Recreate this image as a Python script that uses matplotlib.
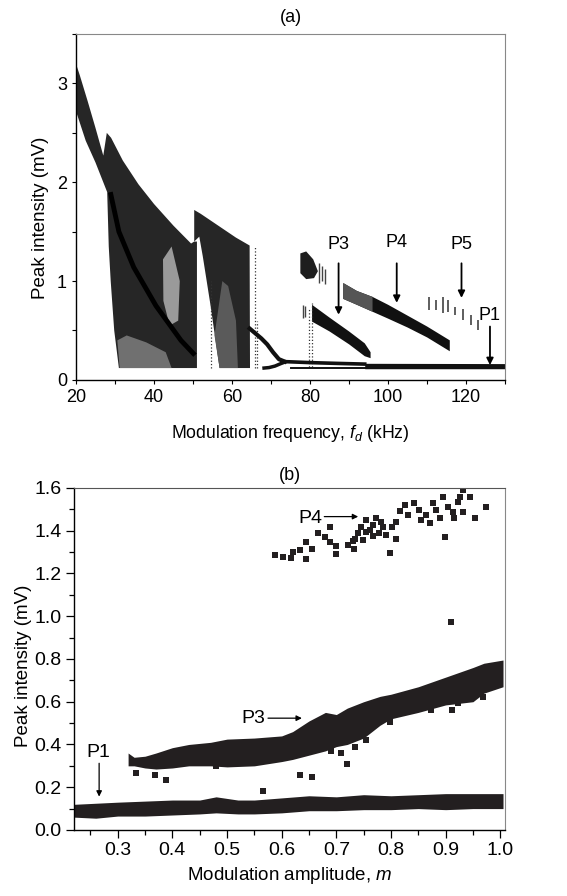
import numpy as np
import matplotlib
matplotlib.use("Agg")
import matplotlib.pyplot as plt
from matplotlib.ticker import MultipleLocator

plt.rcParams['font.family'] = ['Liberation Sans', 'DejaVu Sans']
plt.rcParams['mathtext.fontset'] = 'custom'
plt.rcParams['mathtext.it'] = 'Liberation Sans:italic'
plt.rcParams['mathtext.rm'] = 'Liberation Sans'

# ---------------- panel (a) data ----------------
# chaotic fan, 20-51 kHz (upper edge then lower edge back)
fan_f = [20, 21, 23, 25, 27, 27.9, 29, 32, 36, 40, 45, 49.5, 50.3, 51.0, 51.0,
         31, 29.8, 28.9, 28.4, 28.0, 25, 22.5, 20]
fan_v = [3.2, 3.08, 2.82, 2.55, 2.27, 2.5, 2.45, 2.22, 1.98, 1.78, 1.56, 1.38, 1.40, 1.40, 0.12,
         0.12, 0.5, 1.0, 1.35, 1.9, 2.2, 2.42, 2.72]
# dark diagonal inside the fan
diag_f = [28.8, 31, 34.8, 40.5, 46.9, 50.5]
diag_v = [1.9, 1.5, 1.14, 0.75, 0.4, 0.25]
# lighter patches inside the fan
oval_f = [42.3, 44.5, 46.6, 46.2, 44.0, 42.4]
oval_v = [1.22, 1.35, 1.0, 0.6, 0.55, 0.8]
low_f = [31.2, 44.5, 43, 38, 33, 30.6]
low_v = [0.12, 0.12, 0.28, 0.38, 0.45, 0.4]
# second chaotic window, 50-64.5 kHz
win_f = [50.3, 52, 55, 58, 61, 64.5, 64.6, 56.8, 54.5, 52.5, 51.6, 50.3]
win_v = [1.72, 1.68, 1.6, 1.52, 1.44, 1.36, 0.12, 0.12, 0.75, 1.25, 1.45, 1.40]
winl_f = [56.8, 61.5, 61.0, 59.0, 57.5, 55.5]
winl_v = [0.12, 0.12, 0.6, 0.95, 1.0, 0.45]
# sparse dotted columns
dot_f = [54.6, 65.8, 66.5, 79.6, 80.4]
dot_lo = [0.12, 0.12, 0.12, 0.13, 0.13]
dot_hi = [1.0, 1.35, 0.6, 0.72, 0.78]
# period-doubling fork after 64.5 kHz
fork_up_f = [64.5, 66, 67.5, 69, 70.5, 72, 73.5]
fork_up_v = [0.52, 0.47, 0.42, 0.36, 0.28, 0.21, 0.185]
fork_lo_f = [68.2, 69.5, 71, 72.5, 73.5]
fork_lo_v = [0.12, 0.125, 0.14, 0.165, 0.18]
p1_f = [73.5, 80, 87, 94]
p1_v = [0.185, 0.175, 0.167, 0.16]
p1b_f = [75, 94]
p1b_v = [0.124, 0.124]
p1c_f = [94, 130]
p1c_lo = [0.113, 0.113]
p1c_hi = [0.168, 0.165]
# P3 branch
p3_f = [80.5, 85, 90, 94, 95.5, 95.5, 94, 90, 85, 80.5]
p3_v = [0.76, 0.63, 0.49, 0.37, 0.28, 0.22, 0.24, 0.36, 0.49, 0.59]
# upper blob near 80 kHz
blob_f = [77.5, 79, 80.8, 82, 81, 79, 77.5]
blob_v = [1.28, 1.3, 1.22, 1.1, 1.03, 1.02, 1.08]
blob_tail_f = [78.2, 78.7, 82.3, 83.0, 83.7]
blob_tail_lo = [0.63, 0.64, 0.98, 1.0, 0.97]
blob_tail_hi = [0.76, 0.75, 1.18, 1.15, 1.12]
# P4 branch
p4_f = [88.5, 92, 96, 100, 105, 110, 115.8, 115.8, 110, 105, 100, 96, 92, 88.5]
p4_v = [0.98, 0.9, 0.84, 0.76, 0.65, 0.54, 0.40, 0.29, 0.43, 0.53, 0.62, 0.69, 0.76, 0.82]
p4s_f = [88.5, 92, 96, 96, 92, 88.5]
p4s_v = [0.98, 0.9, 0.84, 0.69, 0.76, 0.82]
# P5 dashes
p5_f = [110.6, 112.3, 114.1, 115.4, 117.1, 119.2, 121.3, 123.1]
p5_lo = [0.71, 0.71, 0.68, 0.69, 0.66, 0.61, 0.56, 0.51]
p5_hi = [0.84, 0.81, 0.84, 0.81, 0.74, 0.72, 0.66, 0.61]

# ---------------- panel (b) data ----------------
lo_m = [0.22, 0.26, 0.30, 0.35, 0.40, 0.45, 0.48, 0.52, 0.55, 0.60, 0.65, 0.70,
        0.75, 0.80, 0.85, 0.90, 0.95, 1.005]
lo_bot = [0.06, 0.055, 0.065, 0.065, 0.07, 0.075, 0.08, 0.075, 0.075, 0.08, 0.09, 0.09,
          0.095, 0.095, 0.10, 0.095, 0.10, 0.10]
lo_top = [0.12, 0.125, 0.13, 0.135, 0.14, 0.14, 0.155, 0.14, 0.14, 0.15, 0.16, 0.155,
          0.165, 0.16, 0.165, 0.17, 0.17, 0.17]
band3_m = [0.319, 0.33, 0.35, 0.37, 0.40, 0.43, 0.47, 0.50, 0.55, 0.60, 0.62, 0.65, 0.68,
           0.70, 0.72, 0.75, 0.78, 0.80, 0.85, 0.90, 0.95, 0.97, 1.005]
band3_top = [0.36, 0.34, 0.345, 0.36, 0.385, 0.40, 0.41, 0.425, 0.43, 0.44, 0.46, 0.51, 0.55,
             0.54, 0.57, 0.60, 0.625, 0.635, 0.67, 0.715, 0.76, 0.78, 0.795]
band3_bot = [0.30, 0.30, 0.29, 0.285, 0.29, 0.30, 0.30, 0.295, 0.30, 0.32, 0.33, 0.35, 0.37,
             0.39, 0.40, 0.43, 0.49, 0.52, 0.55, 0.585, 0.60, 0.64, 0.67]
# isolated squares
out_m = [0.333, 0.368, 0.388, 0.566, 0.633, 0.655, 0.709, 0.72, 0.735, 0.755, 0.798,
         0.874, 0.911, 0.923, 0.968, 0.48, 0.63, 0.69]
out_v = [0.265, 0.255, 0.235, 0.18, 0.257, 0.25, 0.36, 0.31, 0.39, 0.42, 0.505,
         0.56, 0.56, 0.595, 0.62, 0.30, 0.37, 0.37]
clus4_m = [0.588, 0.602, 0.617, 0.621, 0.633, 0.644, 0.644, 0.655, 0.666, 0.679, 0.688,
           0.689, 0.699, 0.699, 0.722, 0.732, 0.734, 0.740, 0.746, 0.755, 0.761, 0.767,
           0.773, 0.779, 0.785, 0.791, 0.798, 0.801, 0.81, 0.81, 0.816, 0.825, 0.831,
           0.843, 0.852, 0.855, 0.864, 0.871, 0.877, 0.883, 0.889, 0.895, 0.898, 0.904,
           0.910, 0.913, 0.916, 0.922, 0.932, 0.932, 0.926, 0.944, 0.953, 0.974,
           0.755, 0.767, 0.782, 0.731, 0.749]
clus4_v = [1.287, 1.276, 1.271, 1.30, 1.31, 1.349, 1.266, 1.316, 1.388, 1.37, 1.418,
           1.349, 1.329, 1.291, 1.335, 1.315, 1.362, 1.388, 1.419, 1.45, 1.404, 1.427,
           1.458, 1.388, 1.419, 1.38, 1.294, 1.419, 1.44, 1.36, 1.49, 1.52, 1.473,
           1.528, 1.497, 1.45, 1.473, 1.434, 1.528, 1.497, 1.458, 1.559, 1.372, 1.513,
           0.975, 1.489, 1.458, 1.536, 1.59, 1.489, 1.56, 1.56, 1.458, 1.513,
           1.396, 1.373, 1.442, 1.35, 1.357]

fig = plt.figure(figsize=(5.67, 8.96), dpi=100)
axA = fig.add_axes([0.134, 0.576, 0.757, 0.386])
axB = fig.add_axes([0.1305, 0.0737, 0.7605, 0.3817])

ink = '#111111'
axA.fill(fan_f, fan_v, color='#262626', lw=0)
axA.fill(oval_f, oval_v, color='#9a9a9a', lw=0)
axA.fill(low_f, low_v, color='#707070', lw=0)
axA.plot(diag_f, diag_v, color='black', lw=3.5, solid_capstyle='butt')
axA.fill(win_f, win_v, color='#262626', lw=0)
axA.fill(winl_f, winl_v, color='#5a5a5a', lw=0)
axA.vlines(dot_f, dot_lo, dot_hi, colors='#333333', linestyles=':', lw=0.9)
axA.plot(fork_up_f, fork_up_v, color=ink, lw=3)
axA.plot(fork_lo_f, fork_lo_v, color=ink, lw=2.5)
axA.plot(p1_f, p1_v, color=ink, lw=2.6)
axA.plot(p1b_f, p1b_v, color=ink, lw=1.4)
axA.fill_between(p1c_f, p1c_lo, p1c_hi, color=ink, lw=0)
axA.fill(p3_f, p3_v, color=ink, lw=0)
axA.fill(blob_f, blob_v, color='#1e1e1e', lw=0)
axA.vlines(blob_tail_f, blob_tail_lo, blob_tail_hi, colors='#444444', lw=1.0)
axA.fill(p4_f, p4_v, color=ink, lw=0)
axA.fill(p4s_f, p4s_v, color='#555555', lw=0)
axA.vlines(p5_f, p5_lo, p5_hi, colors='#333333', lw=1.1)

arr = dict(arrowstyle='-|>', color='black', lw=1.3, mutation_scale=10, shrinkA=0, shrinkB=0)
for lab, f, vt, y0, y1 in [('P3', 87.3, 1.37, 1.18, 0.66), ('P4', 102.2, 1.39, 1.18, 0.78),
                           ('P5', 118.8, 1.37, 1.18, 0.83), ('P1', 126.1, 0.65, 0.54, 0.15)]:
    axA.text(f, vt, lab, ha='center', va='center', fontsize=13)
    axA.annotate('', xy=(f, y1), xytext=(f, y0), arrowprops=arr)

axA.set_xlim(20, 130)
axA.set_ylim(0, 3.5)
axA.xaxis.set_major_locator(MultipleLocator(20))
axA.xaxis.set_minor_locator(MultipleLocator(10))
axA.yaxis.set_major_locator(MultipleLocator(1))
axA.yaxis.set_minor_locator(MultipleLocator(0.5))
axA.set_xlabel(r'Modulation frequency, $f_d$ (kHz)', fontsize=12.7, labelpad=12)
axA.set_ylabel('Peak intensity (mV)', fontsize=13.5)
axA.yaxis.set_label_coords(-0.063, 0.47)
axA.set_title('(a)', fontsize=13, pad=9)
axA.tick_params(which='both', direction='out', labelsize=13, length=3, width=0.8)

# panel (b)
axB.fill_between(lo_m, lo_bot, lo_top, color='#231f20', lw=0)
axB.fill_between(band3_m, band3_bot, band3_top, color='#231f20', lw=0)
axB.plot(out_m, out_v, 's', color='#231f20', ms=5, mew=0)
axB.plot(clus4_m, clus4_v, 's', color='#231f20', ms=5, mew=0)

arrb = dict(arrowstyle='-|>', color='black', lw=0.9, mutation_scale=8, shrinkA=0, shrinkB=0)
axB.text(0.653, 1.458, 'P4', ha='center', va='center', fontsize=14)
axB.annotate('', xy=(0.74, 1.466), xytext=(0.678, 1.466), arrowprops=arrb)
axB.text(0.549, 0.523, 'P3', ha='center', va='center', fontsize=14)
axB.annotate('', xy=(0.637, 0.523), xytext=(0.575, 0.523), arrowprops=arrb)
axB.text(0.2644, 0.362, 'P1', ha='center', va='center', fontsize=14)
axB.annotate('', xy=(0.266, 0.156), xytext=(0.266, 0.312), arrowprops=arrb)

axB.set_xlim(0.22, 1.009)
axB.set_ylim(0, 1.6)
axB.xaxis.set_minor_locator(MultipleLocator(0.05))
axB.yaxis.set_minor_locator(MultipleLocator(0.1))
axB.set_xticks([0.3, 0.4, 0.5, 0.6, 0.7, 0.8, 0.9, 1.0])
axB.set_xticklabels(['0.3', '0.4', '0.5', '0.6', '0.7', '0.8', '0.9', '1.0'])
axB.set_yticks([0.0, 0.2, 0.4, 0.6, 0.8, 1.0, 1.2, 1.4, 1.6])
axB.set_yticklabels(['0.0', '0.2', '0.4', '0.6', '0.8', '1.0', '1.2', '1.4', '1.6'])
axB.set_xlabel(r'Modulation amplitude, $m$', fontsize=13.5, labelpad=4)
axB.set_ylabel('Peak intensity (mV)', fontsize=13.5)
axB.yaxis.set_label_coords(-0.097, 0.48)
axB.set_title('(b)', fontsize=13, pad=6)
axB.tick_params(which='both', direction='out', labelsize=14, width=0.9)
axB.tick_params(which='major', length=5.5)
axB.tick_params(which='minor', length=3.5)

for ax, top_col in [(axA, '#888888'), (axB, '#555555')]:
    ax.spines['top'].set_color(top_col)
    ax.spines['right'].set_color('#888888')
    for s in ['left', 'bottom']:
        ax.spines[s].set_linewidth(1.0)

fig.savefig('out.png', dpi=100)
